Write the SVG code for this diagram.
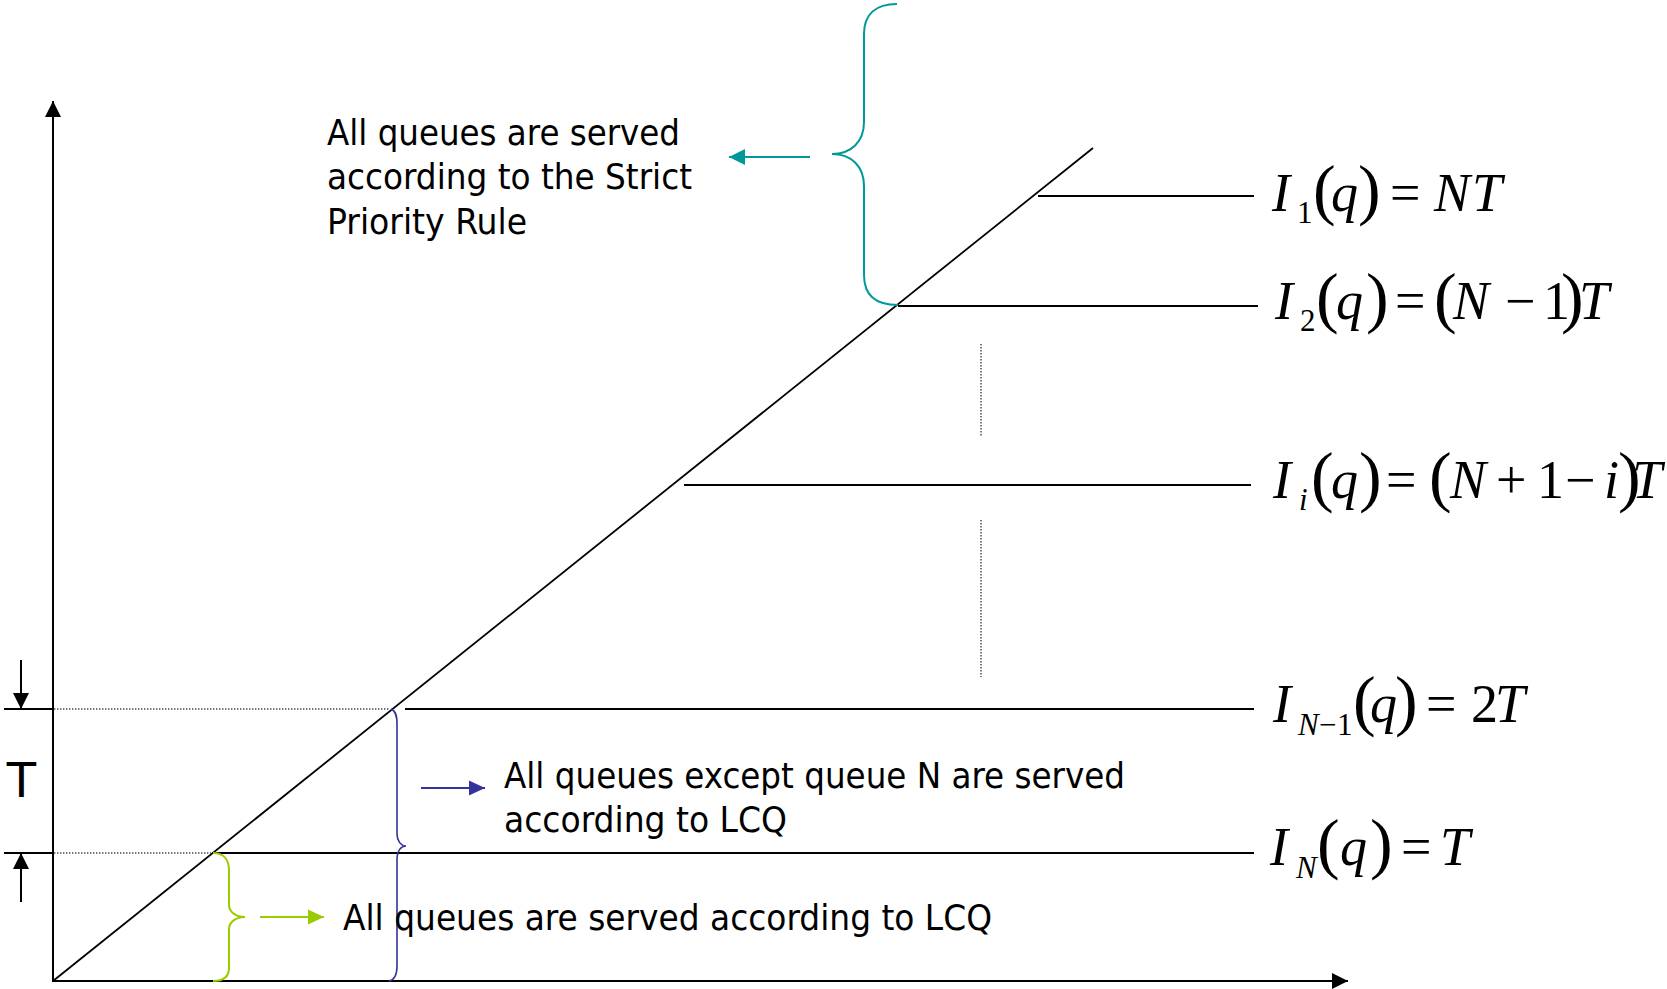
<svg xmlns="http://www.w3.org/2000/svg" width="1667" height="989" viewBox="0 0 1667 989">
  <style>
    .ln { stroke: #000; stroke-width: 2; fill: none; }
    .diag { stroke: #000; stroke-width: 1.8; fill: none; }
    .dot { stroke: #444; stroke-width: 1.4; stroke-dasharray: 1.4 1.6; fill: none; }
    .lbl { font-family: "DejaVu Sans Condensed", "DejaVu Sans", sans-serif; font-stretch: condensed; font-size: 36px; fill: #000; }
    .big { font-family: "DejaVu Sans", sans-serif; font-size: 48px; fill: #000; }
    .m { font-family: "Liberation Serif", "Times New Roman", serif; font-size: 54px; fill: #000; }
    .mi { font-style: italic; }
    .par { font-size: 68px; }
    .sub { font-size: 31px; }
    .teal { stroke: #009999; stroke-width: 2; fill: none; }
    .blue { stroke: #333399; stroke-width: 1.6; fill: none; }
    .green { stroke: #99CC00; stroke-width: 2; fill: none; }
  </style>
  <defs>
    <marker id="ah-black" markerUnits="userSpaceOnUse" markerWidth="16" markerHeight="16" refX="16" refY="8" orient="auto">
      <path d="M0,0 L16,8 L0,16 z" fill="#000"/>
    </marker>
    <marker id="ah-teal" markerUnits="userSpaceOnUse" markerWidth="16" markerHeight="16" refX="16" refY="8" orient="auto">
      <path d="M0,0 L16,8 L0,16 z" fill="#009999"/>
    </marker>
    <marker id="ah-blue" markerUnits="userSpaceOnUse" markerWidth="16" markerHeight="16" refX="16" refY="8" orient="auto">
      <path d="M0,0.5 L16,8 L0,15.5 z" fill="#333399"/>
    </marker>
    <marker id="ah-green" markerUnits="userSpaceOnUse" markerWidth="16" markerHeight="16" refX="16" refY="8" orient="auto">
      <path d="M0,0.5 L16,8 L0,15.5 z" fill="#99CC00"/>
    </marker>
  </defs>

  <rect width="1667" height="989" fill="#fff"/>

  <!-- axes -->
  <g id="axes">
    <line class="ln" x1="53" y1="981" x2="53" y2="101" marker-end="url(#ah-black)"/>
    <line class="ln" x1="52" y1="981" x2="1348" y2="981" marker-end="url(#ah-black)"/>
    <line class="diag" x1="53" y1="981" x2="1093" y2="148"/>
  </g>

  <!-- threshold levels -->
  <g id="levels">
    <line class="ln" x1="1038" y1="196" x2="1254" y2="196"/>
    <line class="ln" x1="898" y1="306" x2="1258" y2="306"/>
    <line class="ln" x1="684" y1="485" x2="1251" y2="485"/>
    <line class="ln" x1="405" y1="709" x2="1254" y2="709"/>
    <line class="ln" x1="212" y1="853" x2="1254" y2="853"/>
    <line class="ln" x1="4" y1="709" x2="53" y2="709"/>
    <line class="ln" x1="4" y1="853" x2="53" y2="853"/>
    <line class="dot" x1="54" y1="709" x2="390" y2="709"/>
    <line class="dot" x1="54" y1="853" x2="211" y2="853"/>
    <line class="dot" x1="981" y1="344" x2="981" y2="437"/>
    <line class="dot" x1="981" y1="520" x2="981" y2="677"/>
  </g>

  <!-- interval T marker -->
  <g id="interval-T">
    <text class="big" x="21.5" y="797" text-anchor="middle">T</text>
  </g>

  <!-- braces -->
  <g id="brace-strict">
    <path class="teal" d="M897,4 C876,4 864,14 864,34 L864,122 C864,142 851,154 832,154 C851,154 864,166 864,186 L864,275 C864,295 876,305 898,305"/>
  </g>
  <g id="brace-except-N">
    <path class="blue" d="M391,709 C396,711 397,716 397,724 L397,834 C397,841 401,846 406,846 C401,846 397,851 397,858 L397,966 C397,975 394,980 389,981"/>
  </g>
  <g id="brace-all-lcq">
    <path class="green" d="M213,853 C223,853 229,859 229,870 L229,905 C229,912 236,917 245,917 C236,917 229,922 229,929 L229,968 C229,977 223,981 213,981"/>
  </g>

  <!-- region labels -->
  <g id="label-strict">
    <text class="lbl" x="327" y="145" textLength="353" lengthAdjust="spacingAndGlyphs">All queues are served</text>
    <text class="lbl" x="327" y="189" textLength="365" lengthAdjust="spacingAndGlyphs">according to the Strict</text>
    <text class="lbl" x="327" y="234" textLength="200" lengthAdjust="spacingAndGlyphs">Priority Rule</text>
  </g>
  <g id="label-except-N">
    <text class="lbl" x="504" y="788" textLength="621" lengthAdjust="spacingAndGlyphs">All queues except queue N are served</text>
    <text class="lbl" x="504" y="832" textLength="283" lengthAdjust="spacingAndGlyphs">according to LCQ</text>
  </g>
  <g id="label-all-lcq">
    <text class="lbl" x="343" y="930" textLength="649" lengthAdjust="spacingAndGlyphs">All queues are served according to LCQ</text>
  </g>

  <!-- threshold formulas -->
  <g id="formula-I1" class="m">
    <text y="211"><tspan class="mi" x="1272">I</tspan><tspan class="sub" x="1297" y="223">1</tspan><tspan class="par" x="1313" y="212">(</tspan><tspan class="mi" x="1331" y="211">q</tspan><tspan class="par" x="1358" y="212">)</tspan><tspan x="1390" y="211">=</tspan><tspan class="mi" x="1434">N</tspan><tspan class="mi" x="1472">T</tspan></text>
  </g>
  <g id="formula-I2" class="m">
    <text y="319"><tspan class="mi" x="1275">I</tspan><tspan class="sub" x="1300" y="331">2</tspan><tspan class="par" x="1316" y="320">(</tspan><tspan class="mi" x="1336" y="319">q</tspan><tspan class="par" x="1366" y="320">)</tspan><tspan x="1395" y="319">=</tspan><tspan class="par" x="1434" y="320">(</tspan><tspan class="mi" x="1453" y="319">N</tspan><tspan x="1505">−</tspan><tspan x="1543">1</tspan><tspan class="par" x="1561" y="320">)</tspan><tspan class="mi" x="1579" y="319">T</tspan></text>
  </g>
  <g id="formula-Ii" class="m">
    <text y="498"><tspan class="mi" x="1273">I</tspan><tspan class="sub mi" x="1299" y="510">i</tspan><tspan class="par" x="1311" y="499">(</tspan><tspan class="mi" x="1331" y="498">q</tspan><tspan class="par" x="1359" y="499">)</tspan><tspan x="1386" y="498">=</tspan><tspan class="par" x="1429" y="499">(</tspan><tspan class="mi" x="1450" y="498">N</tspan><tspan x="1496">+</tspan><tspan x="1537">1</tspan><tspan x="1565">−</tspan><tspan class="mi" x="1604">i</tspan><tspan class="par" x="1618" y="499">)</tspan><tspan class="mi" x="1632" y="498">T</tspan></text>
  </g>
  <g id="formula-IN-1" class="m">
    <text y="722"><tspan class="mi" x="1273">I</tspan><tspan class="sub mi" x="1298" y="735">N</tspan><tspan class="sub" x="1319" y="735">−</tspan><tspan class="sub" x="1337" y="735">1</tspan><tspan class="par" x="1353" y="723">(</tspan><tspan class="mi" x="1370" y="722">q</tspan><tspan class="par" x="1395" y="723">)</tspan><tspan x="1426" y="722">=</tspan><tspan x="1471">2</tspan><tspan class="mi" x="1495">T</tspan></text>
  </g>
  <g id="formula-IN" class="m">
    <text y="865"><tspan class="mi" x="1270">I</tspan><tspan class="sub mi" x="1296" y="878">N</tspan><tspan class="par" x="1317" y="866">(</tspan><tspan class="mi" x="1340" y="865">q</tspan><tspan class="par" x="1370" y="866">)</tspan><tspan x="1401" y="865">=</tspan><tspan class="mi" x="1440">T</tspan></text>
  </g>

  <!-- connectors -->
  <g id="connectors">
    <line x1="810" y1="157" x2="729" y2="157" stroke="#009999" stroke-width="2" marker-end="url(#ah-teal)"/>
    <line x1="421" y1="788" x2="485" y2="788" stroke="#333399" stroke-width="2" marker-end="url(#ah-blue)"/>
    <line x1="260" y1="917" x2="324" y2="917" stroke="#99CC00" stroke-width="2" marker-end="url(#ah-green)"/>
    <line x1="21" y1="660" x2="21" y2="709" stroke="#000" stroke-width="2" marker-end="url(#ah-black)"/>
    <line x1="21" y1="902" x2="21" y2="853" stroke="#000" stroke-width="2" marker-end="url(#ah-black)"/>
  </g>
</svg>
